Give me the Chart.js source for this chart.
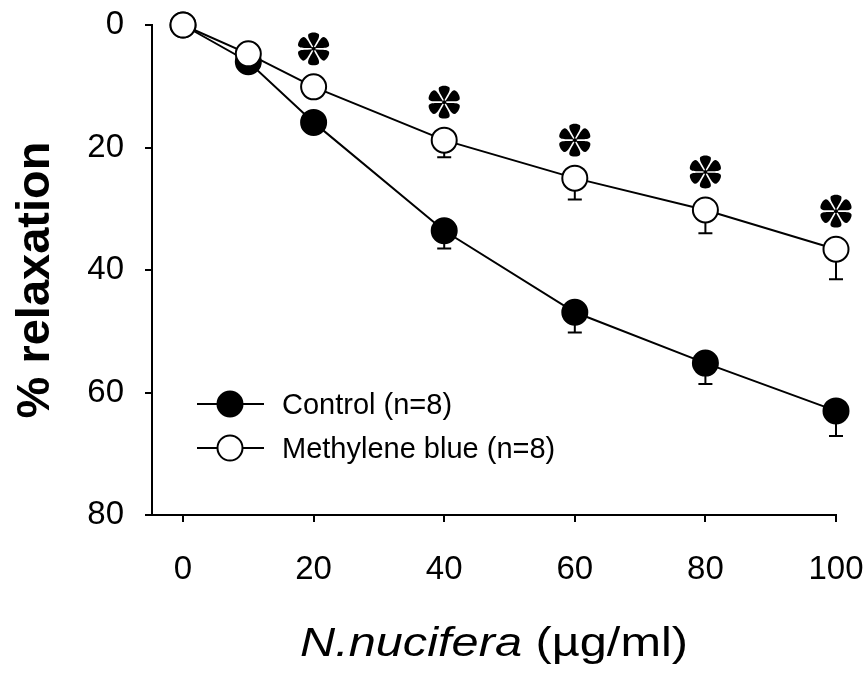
<!DOCTYPE html>
<html><head><meta charset="utf-8">
<script src="https://cdn.jsdelivr.net/npm/chart.js@4.4.1/dist/chart.umd.min.js"></script>
<style>html,body{margin:0;padding:0;background:#fff;}#wrap{width:867px;height:678px;}</style>
</head><body><div id="wrap"><canvas id="c" width="867" height="678"></canvas></div>
<script>
// ---- data ----
const concentrations = [0, 10, 20, 40, 60, 80, 100];
const controlMean = [0, 6.0, 15.9, 33.6, 46.9, 55.2, 63.0];
const controlSem  = [0, 1.0, 1.2, 2.9, 3.3, 3.4, 4.1];
const mbMean = [0, 4.7, 10.1, 18.8, 25.0, 30.2, 36.6];
const mbSem  = [0, 1.0, 1.5, 2.8, 3.5, 3.8, 4.9];
const significantX = [20, 40, 60, 80, 100];
const xTicks = [0, 20, 40, 60, 80, 100];
const yTicks = [0, 20, 40, 60, 80];
const seriesLabels = ['Control (n=8)', 'Methylene blue (n=8)'];
const xTitleItalic = 'N.nucifera';
const xTitleRest = ' (\u00b5g/ml)';
const yTitle = '% relaxation';

const toPts = (xs, ys) => xs.map((x, i) => ({x: x, y: ys[i]}));

function drawAsterisk(ctx, cx, cy, r) {
  ctx.save(); ctx.translate(cx, cy); ctx.fillStyle = '#000';
  for (let k = 0; k < 6; k++) {
    ctx.save(); ctx.rotate(k * Math.PI / 3); ctx.beginPath();
    ctx.moveTo(0, -1);
    ctx.bezierCurveTo(-r * 0.1, -r * 0.35, -r * 0.44, -r * 0.72, -r * 0.32, -r * 0.93);
    ctx.bezierCurveTo(-r * 0.2, -r * 1.06, r * 0.2, -r * 1.06, r * 0.32, -r * 0.93);
    ctx.bezierCurveTo(r * 0.44, -r * 0.72, r * 0.1, -r * 0.35, 0, -1);
    ctx.fill(); ctx.restore();
  }
  ctx.beginPath(); ctx.arc(0, 0, 2, 0, Math.PI * 2); ctx.fill();
  ctx.restore();
}

const decor = {
  id: 'decor',
  beforeDatasetsDraw(chart) {
    const ctx = chart.ctx, xs = chart.scales.x, ys = chart.scales.y;
    ctx.save(); ctx.strokeStyle = '#000'; ctx.lineWidth = 2;
    [[controlMean, controlSem], [mbMean, mbSem]].forEach(([m, e]) => {
      concentrations.forEach((c, i) => {
        if (!e[i]) return;
        const px = xs.getPixelForValue(c);
        const y0 = ys.getPixelForValue(m[i]);
        const y1 = ys.getPixelForValue(m[i] + e[i]);
        ctx.beginPath(); ctx.moveTo(px, y0); ctx.lineTo(px, y1);
        ctx.moveTo(px - 7, y1); ctx.lineTo(px + 7, y1); ctx.stroke();
      });
    });
    ctx.restore();
  },
  afterDraw(chart) {
    const ctx = chart.ctx, xs = chart.scales.x, ys = chart.scales.y;
    significantX.forEach(sx => {
      const i = concentrations.indexOf(sx);
      drawAsterisk(ctx, xs.getPixelForValue(sx), ys.getPixelForValue(mbMean[i]) - 38, 16);
    });
    ctx.save();
    const rows = [{y: 404, fill: '#000'}, {y: 448, fill: '#fff'}];
    rows.forEach((r, k) => {
      ctx.strokeStyle = '#000'; ctx.lineWidth = 2;
      ctx.beginPath(); ctx.moveTo(197, r.y); ctx.lineTo(264, r.y); ctx.stroke();
      ctx.beginPath(); ctx.arc(230, r.y, 12.5, 0, Math.PI * 2);
      ctx.fillStyle = r.fill; ctx.fill(); ctx.stroke();
      ctx.fillStyle = '#000'; ctx.font = '29px "Liberation Sans", Arial, sans-serif';
      ctx.textAlign = 'left'; ctx.textBaseline = 'middle';
      ctx.fillText(seriesLabels[k], 282, r.y + 2);
    });
    ctx.save();
    ctx.translate(49, 280); ctx.rotate(-Math.PI / 2);
    ctx.font = 'bold 47px "Liberation Sans", Arial, sans-serif';
    ctx.textAlign = 'center'; ctx.textBaseline = 'alphabetic';
    ctx.fillText(yTitle, 0, 0);
    ctx.restore();
    const fi = 'italic 41px "Liberation Sans", Arial, sans-serif';
    const fr = '41px "Liberation Sans", Arial, sans-serif';
    ctx.font = fi; const w1 = ctx.measureText(xTitleItalic).width;
    ctx.font = fr; const w2 = ctx.measureText(xTitleRest).width;
    const target = 388, sc = target / (w1 + w2);
    ctx.save();
    ctx.translate(300, 656); ctx.scale(sc, 1);
    ctx.textAlign = 'left'; ctx.textBaseline = 'alphabetic';
    ctx.font = fi; ctx.fillText(xTitleItalic, 0, 0);
    ctx.font = fr; ctx.fillText(xTitleRest, w1, 0);
    ctx.restore();
    ctx.restore();
  }
};

const tickFont = {family: '"Liberation Sans", Arial, sans-serif', size: 33};

new Chart(document.getElementById('c'), {
  type: 'scatter',
  data: {
    datasets: [
      {label: seriesLabels[1], data: toPts(concentrations, mbMean), showLine: true,
       borderColor: '#000', borderWidth: 2, pointRadius: 12.5, pointHoverRadius: 12.5,
       pointBackgroundColor: '#fff', pointBorderColor: '#000', pointBorderWidth: 2, clip: false},
      {label: seriesLabels[0], data: toPts(concentrations, controlMean), showLine: true,
       borderColor: '#000', borderWidth: 2, pointRadius: 12.5, pointHoverRadius: 12.5,
       pointBackgroundColor: '#000', pointBorderColor: '#000', pointBorderWidth: 2, clip: false}
    ]
  },
  options: {
    responsive: false, animation: false, devicePixelRatio: 1,
    layout: {padding: {top: 25, right: 31, left: 0, bottom: 0}},
    plugins: {legend: {display: false}, tooltip: {enabled: false}},
    scales: {
      x: {type: 'linear', min: -4.75, max: 100,
        afterBuildTicks: s => { s.ticks = xTicks.map(v => ({value: v})); },
        afterFit: s => { s.height = 163; s.paddingLeft = 0; s.paddingRight = 0; },
        ticks: {font: tickFont, color: '#000', padding: 28, maxRotation: 0},
        grid: {drawOnChartArea: false, tickLength: 7, color: '#000', lineWidth: 2},
        border: {color: '#000', width: 2}},
      y: {type: 'linear', min: 0, max: 80, reverse: true,
        afterBuildTicks: s => { s.ticks = yTicks.map(v => ({value: v})); },
        afterFit: s => { s.width = 152; s.paddingTop = 0; s.paddingBottom = 0; },
        ticks: {font: tickFont, color: '#000', padding: 21},
        grid: {drawOnChartArea: false, tickLength: 7, color: '#000', lineWidth: 2},
        border: {color: '#000', width: 2}}
    }
  },
  plugins: [decor]
});
</script></body></html>
